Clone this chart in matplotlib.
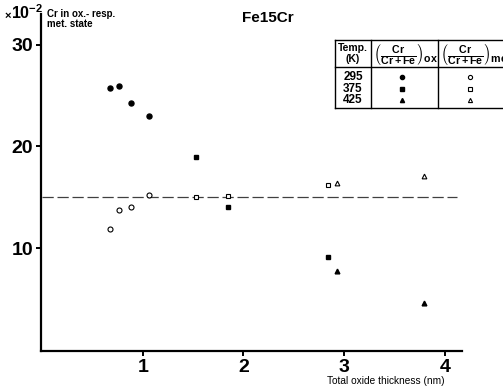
import numpy as np
import matplotlib.pyplot as plt
from matplotlib.lines import Line2D

plt.rcParams['font.family'] = ['Liberation Sans', 'DejaVu Sans']
plt.rcParams['font.weight'] = 'bold'
plt.rcParams['mathtext.fontset'] = 'custom'
plt.rcParams['mathtext.rm'] = 'Liberation Sans:bold'
plt.rcParams['mathtext.it'] = 'Liberation Sans:bold'
plt.rcParams['mathtext.bf'] = 'Liberation Sans:bold'

# Cr fraction (x10^-2) vs oxide thickness, by oxidation temperature
thick_295 = [0.68, 0.76, 0.88, 1.06]
ox_295 = [25.7, 25.9, 24.3, 23.0]
met_295 = [11.9, 13.7, 14.0, 15.2]

thick_375 = [1.53, 1.85, 2.84]
ox_375 = [19.0, 14.0, 9.15]
met_375 = [15.0, 15.1, 16.2]

thick_425 = [2.93, 3.79]
ox_425 = [7.8, 4.6]
met_425 = [16.4, 17.1]

bulk_cr = 15.0
temps = ['295', '375', '425']

W, H = 503, 389
fig = plt.figure(figsize=(W / 100, H / 100), dpi=100)

def fx(px): return px / W
def fy(py): return 1 - py / H

ax = fig.add_axes([fx(41), fy(351), fx(462) - fx(41), fy(14) - fy(351)])
ax.set_xlim(-0.01, 4.17)
ax.set_ylim(-0.1, 33.0)

for s in ['top', 'right']:
    ax.spines[s].set_visible(False)
for s in ['left', 'bottom']:
    ax.spines[s].set_linewidth(1.6)

ax.set_xticks([1, 2, 3, 4])
ax.set_yticks([10, 20, 30])
ax.tick_params(direction='out', length=3.5, width=1.4, labelsize=14, pad=2)

ax.plot([0, 4.12], [bulk_cr, bulk_cr], color='0.25', lw=0.9,
        dashes=(9, 3))

ms = 3.6
ax.plot(thick_295, ox_295, 'o', color='black', ms=ms)
ax.plot(thick_295, met_295, 'o', mfc='white', mec='black', mew=0.8, ms=ms)
ax.plot(thick_375, ox_375, 's', color='black', ms=ms - 0.4)
ax.plot(thick_375, met_375, 's', mfc='white', mec='black', mew=0.8, ms=ms - 0.5)
ax.plot(thick_425, ox_425, '^', color='black', ms=ms - 0.2)
ax.plot(thick_425, met_425, '^', mfc='white', mec='black', mew=0.8, ms=ms - 0.2)

# labels around the axes
fig.text(fx(4), fy(19), r'$\times$', fontsize=8, ha='left', va='baseline')
fig.text(fx(11), fy(19), r'$10^{-2}$', fontsize=11.5, ha='left', va='baseline')
fig.text(fx(47), fy(9), 'Cr in ox.- resp.\nmet. state', fontsize=7,
         ha='left', va='top', linespacing=0.95)
fig.text(fx(268), fy(18), 'Fe15Cr', fontsize=11, ha='center', va='center')
fig.text(fx(386), fy(381), 'Total oxide thickness (nm)', fontsize=7.3,
         ha='center', va='center', weight='normal')

# legend table
tl, t1, t2, tr = 335, 371, 438, 520
ttop, thead, tbot = 40, 67, 108
for y in (ttop, thead, tbot):
    fig.add_artist(Line2D([fx(tl), fx(tr)], [fy(y), fy(y)], color='black',
                          lw=1.0, transform=fig.transFigure))
for x in (tl, t1, t2):
    fig.add_artist(Line2D([fx(x), fx(x)], [fy(ttop), fy(tbot)], color='black',
                          lw=1.0, transform=fig.transFigure))

fig.text(fx(353), fy(48), 'Temp.', fontsize=7.5, ha='center', va='center')
fig.text(fx(353), fy(59), '(K)', fontsize=7.5, ha='center', va='center')
fig.text(fx(373), fy(54), r'$\left(\frac{Cr}{Cr+Fe}\right)_{ox}$', fontsize=11,
         ha='left', va='center')
fig.text(fx(440), fy(54), r'$\left(\frac{Cr}{Cr+Fe}\right)_{met}$', fontsize=11,
         ha='left', va='center')

rows_y = [77, 89, 100]
filled = ['o', 's', '^']
for t, y, m in zip(temps, rows_y, filled):
    fig.text(fx(353), fy(y), t, fontsize=8.5, ha='center', va='center')
    fig.add_artist(Line2D([fx(402)], [fy(y)], marker=m, color='black', ms=3,
                          ls='none', transform=fig.transFigure))
    fig.add_artist(Line2D([fx(470)], [fy(y)], marker=m, mfc='white', mec='black',
                          mew=0.8, ms=3, ls='none', transform=fig.transFigure))

fig.savefig('out.png', dpi=100)
